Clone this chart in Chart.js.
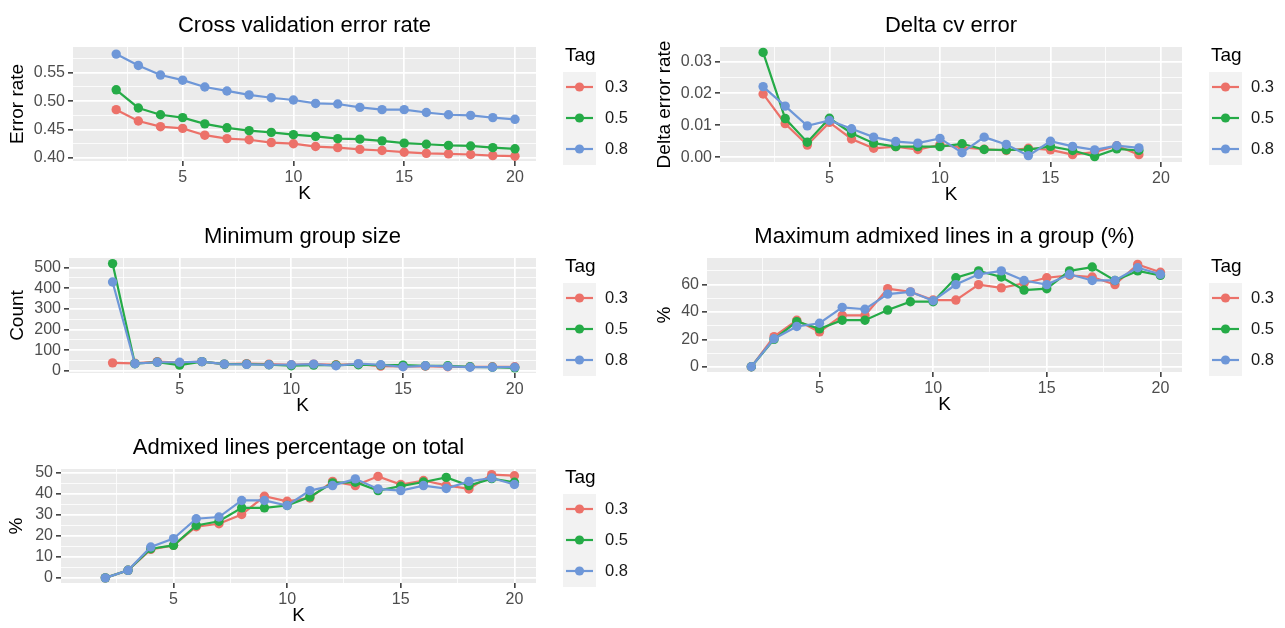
<!DOCTYPE html>
<html>
<head>
    <meta charset="utf-8">
    <title>K selection</title>
    <script src="https://cdn.jsdelivr.net/npm/chart.js"></script>
    <style>
        body { margin: 0; background: #fff; width: 1285px; height: 628px; position: relative; overflow: hidden; }
        canvas { position: absolute; }
    </style>
</head>
<body>

    <canvas id="cvChart" width="640" height="210" style="left:0;top:0"></canvas>
    <canvas id="deltaChart" width="645" height="210" style="left:640px;top:0"></canvas>
    <canvas id="minChart" width="640" height="210" style="left:0;top:210px"></canvas>
    <canvas id="maxChart" width="645" height="210" style="left:640px;top:210px"></canvas>
    <canvas id="totChart" width="640" height="208" style="left:0;top:420px"></canvas>

    <script>
        // data
        const tags = ['0.3', '0.5', '0.8'];
        const tagColors = ['#EC7169', '#25AB47', '#6E97D8'];

        const kAll = [2, 3, 4, 5, 6, 7, 8, 9, 10, 11, 12, 13, 14, 15, 16, 17, 18, 19, 20];
        const kDelta = [2, 3, 4, 5, 6, 7, 8, 9, 10, 11, 12, 13, 14, 15, 16, 17, 18, 19];
        const kTickLabels = [5, 10, 15, 20];

        const cvErr03 = [0.485, 0.465, 0.455, 0.452, 0.440, 0.434, 0.432, 0.427, 0.425, 0.420, 0.418, 0.415, 0.413, 0.410, 0.408, 0.407, 0.406, 0.404, 0.403];
        const cvErr05 = [0.520, 0.488, 0.476, 0.471, 0.460, 0.453, 0.448, 0.445, 0.441, 0.438, 0.434, 0.433, 0.430, 0.426, 0.424, 0.422, 0.421, 0.418, 0.416];
        const cvErr08 = [0.583, 0.563, 0.546, 0.537, 0.525, 0.518, 0.511, 0.506, 0.502, 0.496, 0.495, 0.489, 0.485, 0.485, 0.480, 0.476, 0.475, 0.471, 0.468];
        const cvTicks = [0.40, 0.45, 0.50, 0.55];

        const dCv03 = [0.0198, 0.0105, 0.0038, 0.0109, 0.0057, 0.0028, 0.0033, 0.0024, 0.0039, 0.0031, 0.0025, 0.0021, 0.0028, 0.0023, 0.0008, 0.0016, 0.0036, 0.0008];
        const dCv05 = [0.0328, 0.0121, 0.0047, 0.0122, 0.0075, 0.0044, 0.0033, 0.0033, 0.0033, 0.0042, 0.0024, 0.0023, 0.0024, 0.0034, 0.0021, 0.0002, 0.0026, 0.0021];
        const dCv08 = [0.0221, 0.0160, 0.0098, 0.0115, 0.0089, 0.0063, 0.0049, 0.0044, 0.0059, 0.0014, 0.0063, 0.0040, 0.0005, 0.0050, 0.0034, 0.0023, 0.0036, 0.0029];
        const dCvTicks = [0.00, 0.01, 0.02, 0.03];

        const minGrp03 = [39, 37, 45, 40, 45, 33, 35, 33, 30, 33, 30, 33, 23, 22, 23, 20, 20, 20, 20];
        const minGrp05 = [519, 35, 42, 28, 45, 33, 33, 30, 25, 28, 28, 30, 28, 28, 25, 25, 20, 18, 15];
        const minGrp08 = [430, 35, 42, 42, 45, 33, 32, 30, 30, 33, 25, 35, 30, 20, 25, 22, 18, 18, 18];
        const minGrpTicks = [0, 100, 200, 300, 400, 500];

        const maxAdm03 = [0, 22, 34, 25.5, 37.5, 37.5, 57, 54.7, 48.7, 48.7, 60, 57.6, 61, 65, 66.7, 65.5, 60, 74.7, 69];
        const maxAdm05 = [0, 20, 33, 27.7, 34, 34, 41.4, 47.5, 47.5, 65, 70, 65.5, 56, 57, 70, 72.8, 63, 70, 66.7];
        const maxAdm08 = [0, 20.5, 29.4, 31.8, 43.4, 42, 53, 54.7, 48.2, 60, 67.5, 70, 63, 60, 67.5, 63, 63, 72.3, 67.5];
        const maxAdmTicks = [0, 20, 40, 60];

        const totAdm03 = [0, 3.6, 13.6, 15.5, 24.4, 25.8, 30.2, 38.9, 36.5, 38.1, 46, 44, 48.4, 44.5, 46.4, 44.1, 42.4, 49.2, 48.7];
        const totAdm05 = [0, 3.6, 13.9, 15.5, 25, 27, 33.4, 33.4, 34.5, 38.6, 45.3, 45.6, 41.6, 43.7, 45.7, 47.9, 44, 47.3, 45.6];
        const totAdm08 = [0, 3.6, 14.7, 18.7, 28.2, 29, 36.9, 36.9, 34.5, 41.6, 44, 47.2, 42.4, 41.6, 44, 42.6, 46, 47.6, 44.5];
        const totAdmTicks = [0, 10, 20, 30, 40, 50];

        Chart.defaults.font.family = '"Liberation Sans", Arial, sans-serif';

        // grey panel like ggplot
        const panelBg = {
            id: 'panelBg',
            beforeDraw(chart) {
                const a = chart.chartArea, ctx = chart.ctx;
                ctx.save();
                ctx.fillStyle = '#EBEBEB';
                ctx.fillRect(a.left, a.top, a.right - a.left, a.bottom - a.top);
                ctx.restore();
            }
        };

        // ggplot style legend: "Tag" title and grey keys
        const ggLegend = {
            id: 'ggLegend',
            afterDraw(chart) {
                const a = chart.chartArea, ctx = chart.ctx;
                const x0 = a.right + 27;
                ctx.save();
                ctx.fillStyle = '#000';
                ctx.font = '19px "Liberation Sans", Arial, sans-serif';
                ctx.textBaseline = 'middle';
                ctx.fillText('Tag', a.right + 29, a.top + 9);
                ctx.fillStyle = '#F2F2F2';
                ctx.fillRect(x0, a.top + 25, 33, 93);
                tags.forEach(function(t, i) {
                    const y = a.top + 40 + 31 * i;
                    ctx.strokeStyle = tagColors[i];
                    ctx.lineWidth = 2.2;
                    ctx.beginPath();
                    ctx.moveTo(x0 + 3, y);
                    ctx.lineTo(x0 + 30, y);
                    ctx.stroke();
                    ctx.fillStyle = tagColors[i];
                    ctx.beginPath();
                    ctx.arc(x0 + 16.5, y, 4.6, 0, Math.PI * 2);
                    ctx.fill();
                    ctx.fillStyle = '#1A1A1A';
                    ctx.font = '16.5px "Liberation Sans", Arial, sans-serif';
                    ctx.fillText(t, a.right + 69, y);
                });
                ctx.restore();
            }
        };

        function minorBreaks(majors, lo, hi) {
            const step = majors[1] - majors[0];
            const out = [];
            for (let i = -1; i < majors.length; i++) {
                const v = majors[0] + step * (i + 0.5);
                if (v > lo && v < hi) out.push(v);
            }
            return out;
        }

        function makePanel(id, p) {
            const canvas = document.getElementById(id);
            const W = canvas.width, H = canvas.height;
            const XH = 44;
            const isMajor = (vals, v) => vals.some(m => Math.abs(m - v) < 1e-9);
            const xMinor = [2.5, 7.5, 12.5, 17.5];
            const yMinor = minorBreaks(p.yTicks, p.yMin, p.yMax);
            const titleC = p.area.top - 21;

            const datasets = p.series.map(function(vals, i) {
                return {
                    label: tags[i],
                    data: vals.map((v, j) => ({ x: p.k[j], y: v })),
                    borderColor: tagColors[i],
                    backgroundColor: tagColors[i],
                    borderWidth: 2.2,
                    pointRadius: 4.7,
                    pointBorderWidth: 0,
                    pointBackgroundColor: tagColors[i],
                    tension: 0,
                    order: 3 - i
                };
            });

            return new Chart(canvas, {
                type: 'line',
                data: { datasets: datasets },
                options: {
                    responsive: false,
                    animation: false,
                    devicePixelRatio: 1,
                    layout: { padding: { left: 0, top: 0, right: W - p.area.right, bottom: H - p.area.bottom - XH } },
                    plugins: {
                        legend: { display: false },
                        tooltip: { enabled: false },
                        title: {
                            display: true,
                            text: p.title,
                            fullSize: false,
                            color: '#000',
                            font: { size: 22, weight: 'normal' },
                            padding: { top: titleC - 13.2, bottom: p.area.top - titleC - 13.2 }
                        }
                    },
                    scales: {
                        x: {
                            type: 'linear',
                            min: 0.05,
                            max: 20.95,
                            afterBuildTicks: s => { s.ticks = kTickLabels.concat(xMinor).sort((a, b) => a - b).map(v => ({ value: v })); },
                            afterFit: s => { s.height = XH; },
                            border: { display: false },
                            grid: {
                                color: '#FFFFFF',
                                lineWidth: c => isMajor(kTickLabels, c.tick.value) ? 1.7 : 0.8,
                                tickLength: 5,
                                tickWidth: 1.5,
                                tickColor: c => isMajor(kTickLabels, c.tick.value) ? '#333333' : 'rgba(0,0,0,0)'
                            },
                            ticks: {
                                autoSkip: false,
                                maxRotation: 0,
                                padding: 1.5,
                                color: '#4D4D4D',
                                font: { size: 16 },
                                callback: v => isMajor(kTickLabels, v) ? String(v) : ''
                            },
                            title: { display: true, text: 'K', color: '#000', font: { size: 19 }, padding: { top: 0, bottom: 0 } }
                        },
                        y: {
                            type: 'linear',
                            min: p.yMin,
                            max: p.yMax,
                            afterBuildTicks: s => { s.ticks = p.yTicks.concat(yMinor).sort((a, b) => a - b).map(v => ({ value: v })); },
                            afterFit: s => { s.width = p.area.left; },
                            border: { display: false },
                            grid: {
                                color: '#FFFFFF',
                                lineWidth: c => isMajor(p.yTicks, c.tick.value) ? 1.7 : 0.8,
                                tickLength: 5,
                                tickWidth: 1.5,
                                tickColor: c => isMajor(p.yTicks, c.tick.value) ? '#333333' : 'rgba(0,0,0,0)'
                            },
                            ticks: {
                                autoSkip: false,
                                padding: 3,
                                color: '#4D4D4D',
                                font: { size: 16 },
                                callback: v => isMajor(p.yTicks, v) ? (p.digits ? v.toFixed(p.digits) : String(Math.round(v))) : ''
                            },
                            title: { display: true, text: p.yTitle, color: '#000', font: { size: 19 }, padding: { top: p.yTitleX - 11.4, bottom: 0 } }
                        }
                    }
                },
                plugins: [panelBg, ggLegend]
            });
        }

        makePanel('cvChart', {
            title: 'Cross validation error rate', yTitle: 'Error rate', yTitleX: 18,
            area: { left: 73, right: 536, top: 47, bottom: 161 },
            k: kAll, series: [cvErr03, cvErr05, cvErr08],
            yMin: 0.3945, yMax: 0.5955, yTicks: cvTicks, digits: 2
        });

        makePanel('deltaChart', {
            title: 'Delta cv error', yTitle: 'Delta error rate', yTitleX: 25,
            area: { left: 80, right: 542, top: 47, bottom: 162 },
            k: kDelta, series: [dCv03, dCv05, dCv08],
            yMin: -0.0015, yMax: 0.0345, yTicks: dCvTicks, digits: 2
        });

        makePanel('minChart', {
            title: 'Minimum group size', yTitle: 'Count', yTitleX: 18,
            area: { left: 69, right: 536, top: 48, bottom: 163 },
            k: kAll, series: [minGrp03, minGrp05, minGrp08],
            yMin: -10, yMax: 546, yTicks: minGrpTicks, digits: 0
        });

        makePanel('maxChart', {
            title: 'Maximum admixed lines in a group (%)', yTitle: '%', yTitleX: 25,
            area: { left: 67, right: 542, top: 48, bottom: 162 },
            k: kAll, series: [maxAdm03, maxAdm05, maxAdm08],
            yMin: -3.8, yMax: 79.4, yTicks: maxAdmTicks, digits: 0
        });

        makePanel('totChart', {
            title: 'Admixed lines percentage on total', yTitle: '%', yTitleX: 17,
            area: { left: 61, right: 536, top: 49, bottom: 163 },
            k: kAll, series: [totAdm03, totAdm05, totAdm08],
            yMin: -2.45, yMax: 51.9, yTicks: totAdmTicks, digits: 0
        });
    </script>

</body>
</html>
